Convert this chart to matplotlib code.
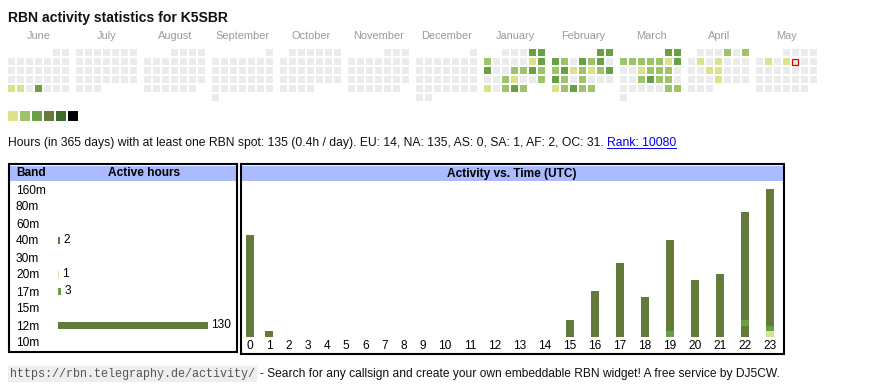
import datetime as dt
import matplotlib
matplotlib.use("Agg")
import matplotlib.pyplot as plt
from matplotlib.patches import Rectangle

# ---------------- data ----------------
title = "RBN activity statistics for K5SBR"
month_names = ["June", "July", "August", "September", "October", "November",
               "December", "January", "February", "March", "April", "May"]
first_year, first_month = 2024, 6
today = "2025-05-09"

# day -> activity level (1..6); all other days are empty
active_dates = [
    "2024-06-24", "2024-06-25", "2024-06-27",
    "2025-01-04", "2025-01-05", "2025-01-06", "2025-01-11", "2025-01-12",
    "2025-01-13", "2025-01-16", "2025-01-17", "2025-01-18", "2025-01-19",
    "2025-01-22", "2025-01-23", "2025-01-26",
    "2025-01-27", "2025-01-29", "2025-01-30", "2025-01-31",
    "2025-02-01", "2025-02-02",
    "2025-02-03", "2025-02-04", "2025-02-06", "2025-02-07", "2025-02-08",
    "2025-02-10", "2025-02-11", "2025-02-12", "2025-02-13", "2025-02-14", "2025-02-15", "2025-02-16",
    "2025-02-17", "2025-02-18", "2025-02-20",
    "2025-02-24", "2025-02-25", "2025-02-26", "2025-02-27", "2025-02-28",
    "2025-03-01", "2025-03-02",
    "2025-03-03", "2025-03-04", "2025-03-05", "2025-03-06", "2025-03-07", "2025-03-08", "2025-03-09",
    "2025-03-12", "2025-03-13", "2025-03-14", "2025-03-15",
    "2025-03-19", "2025-03-20", "2025-03-21", "2025-03-22",
    "2025-03-29", "2025-03-30",
    "2025-04-04", "2025-04-06", "2025-04-08", "2025-04-10",
    "2025-04-16", "2025-04-17", "2025-04-24",
    "2025-05-06", "2025-05-08",
]
active_levels = [
    1, 1, 3,
    3, 3, 2, 1, 3,
    3, 2, 2, 3, 2,
    2, 1, 2,
    1, 2, 3, 2,
    3, 3,
    3, 2, 3, 2, 3,
    2, 3, 1, 2, 1, 2, 3,
    3, 2, 2,
    1, 2, 3, 2, 2,
    3, 3,
    2, 2, 2, 2, 2, 1, 3,
    1, 2, 2, 2,
    2, 3, 2, 2,
    2, 2,
    2, 2, 1, 1,
    1, 1, 1,
    1, 1,
]
level_colors = ["#dbe28b", "#9ec36b", "#68a045", "#667b3b", "#3e6b2a", "#000000"]
empty_color = "#ebebeb"

stats_text = ("Hours (in 365 days) with at least one RBN spot: 135 (0.4h / day). "
              "EU: 14, NA: 135, AS: 0, SA: 1, AF: 2, OC: 31. ")
rank_text = "Rank: 10080"

bands = ["160m", "80m", "60m", "40m", "30m", "20m", "17m", "15m", "12m", "10m"]
band_hours = [0, 0, 0, 2, 0, 1, 3, 0, 130, 0]
band_colors = {"40m": "#647a3a", "20m": "#dbe28b", "17m": "#68a045", "12m": "#647a3a"}

hours = [str(h) for h in range(24)]
hour_40m = [0, 0, 0, 0, 0, 0, 0, 0, 0, 0, 0, 0, 0, 0, 0, 0, 0, 0, 0, 0, 0, 0, 2, 0]
hour_20m = [0, 0, 0, 0, 0, 0, 0, 0, 0, 0, 0, 0, 0, 0, 0, 0, 0, 0, 0, 0, 0, 0, 0, 1]
hour_17m = [0, 0, 0, 0, 0, 0, 0, 0, 0, 0, 0, 0, 0, 0, 0, 0, 0, 0, 0, 1, 0, 0, 1, 1]
hour_12m = [18, 1, 0, 0, 0, 0, 0, 0, 0, 0, 0, 0, 0, 0, 0, 3, 8, 13, 7, 16, 10, 11, 19, 24]
hour_series = [("40m", hour_40m), ("20m", hour_20m), ("17m", hour_17m), ("12m", hour_12m)]

footer_url = "https://rbn.telegraphy.de/activity/"
footer_text = "- Search for any callsign and create your own embeddable RBN widget! A free service by DJ5CW."

# ---------------- layout ----------------
W, H = 870, 390
plt.rcParams["font.family"] = ["Liberation Sans", "DejaVu Sans"]
FS_M = 7.9   # month labels (~11px)
FS = 8.6     # body text (~12px)

fig = plt.figure(figsize=(W / 100, H / 100), dpi=100)
ov = fig.add_axes([0, 0, 1, 1])
ov.set_xlim(0, W)
ov.set_ylim(H, 0)
ov.axis("off")


def px_axes(x0, y0, x1, y1):
    a = fig.add_axes([x0 / W, 1 - y1 / H, (x1 - x0) / W, (y1 - y0) / H])
    a.patch.set_alpha(0)
    for s in a.spines.values():
        s.set_visible(False)
    return a


ov.text(8, 22, title, fontsize=10.1, fontweight="bold", ha="left", va="baseline", color="#111111")

# calendar
levels = {dt.date.fromisoformat(d): l for d, l in zip(active_dates, active_levels)}
today_d = dt.date.fromisoformat(today)
cell, pitch, block = 7, 9, 68
for m in range(12):
    yy = first_year + (first_month - 1 + m) // 12
    mm = (first_month - 1 + m) % 12 + 1
    start = dt.date(yy, mm, 1)
    nxt = dt.date(yy + (mm // 12), mm % 12 + 1, 1)
    ndays = (nxt - start).days
    bx = 8 + block * m
    ov.text(bx + 31, 39, month_names[m], ha="center", va="baseline", fontsize=FS_M, color="#9a9a9a")
    off = start.weekday()
    for d in range(ndays):
        r, c = divmod(off + d, 7)
        day = start + dt.timedelta(days=d)
        lv = levels.get(day, 0)
        col = level_colors[lv - 1] if lv else empty_color
        x, y = bx + pitch * c, 49 + pitch * r
        if day == today_d:
            ov.add_patch(Rectangle((x + 0.5, y + 0.5), cell - 1, cell - 1, facecolor=empty_color,
                                   edgecolor="#e00000", linewidth=0.9))
        else:
            ov.add_patch(Rectangle((x, y), cell, cell, facecolor=col, linewidth=0, antialiased=False))

# legend
for i, c in enumerate(level_colors):
    ov.add_patch(Rectangle((8 + 12 * i, 111), 10, 10, facecolor=c, linewidth=0, antialiased=False))

# stats line
t_stats = ov.text(8, 146, stats_text, fontsize=8.7, ha="left", va="baseline", color="#111111")

# boxes and headers
ov.add_patch(Rectangle((10.3, 166), 226, 14.7, facecolor="#aabbff", linewidth=0))
ov.add_patch(Rectangle((242, 166), 541, 14.7, facecolor="#aabbff", linewidth=0))
ov.add_patch(Rectangle((9.3, 164.3), 228, 187.2, fill=False, edgecolor="black", linewidth=1.5))
ov.add_patch(Rectangle((241, 164.3), 543.2, 189.5, fill=False, edgecolor="black", linewidth=1.5))
ov.text(16, 173.5, "Band", fontsize=FS, fontweight="bold", ha="left", va="center")
ov.text(144, 173.5, "Active hours", fontsize=FS, fontweight="bold", ha="center", va="center")
ov.text(512, 173.5, "Activity vs. Time (UTC)", fontsize=FS, fontweight="bold", ha="center", va="center")

# band bar chart
bax = px_axes(58, 180.5, 234, 350.5)
px_per_unit = 150 / 130
bcols = [band_colors.get(b, "#647a3a") for b in bands]
cont = bax.barh(range(len(bands)), band_hours, height=7 / 17, color=bcols, linewidth=0)
bax.bar_label(cont, labels=[str(v) if v else "" for v in band_hours], padding=2.3, fontsize=FS)
bax.set_xlim(0, 176 / px_per_unit)
bax.set_ylim(len(bands) - 0.5, -0.5)
bax.set_xticks([])
bax.set_yticks(range(len(bands)))
bax.set_yticklabels(bands, fontsize=FS)
bax.tick_params(axis="y", length=0, pad=(58 - 16) * 0.72)
for lab in bax.get_yticklabels():
    lab.set_ha("left")

# activity vs time
tax = px_axes(241, 181, 784, 337)
widths = [19.2 if len(h) == 1 else 25 for h in hours]
xs = []
cur = 240.5
for w in widths:
    xs.append(cur + w / 2)
    cur += w
bottom = [0] * len(hours)
for band, vals in hour_series:
    tax.bar(xs, vals, width=8, bottom=bottom, color=band_colors[band], linewidth=0)
    bottom = [b + v for b, v in zip(bottom, vals)]
tax.set_xlim(241, 784)
tax.set_ylim(0, 156 / (148 / 26))
tax.set_yticks([])
tax.set_xticks(xs)
tax.set_xticklabels(hours, fontsize=FS)
tax.tick_params(axis="x", length=0, pad=2.0)

# footer
t_url = ov.text(10, 374, footer_url, fontsize=8.5, family="Liberation Mono", color="#555555",
                ha="left", va="center",
                bbox=dict(facecolor="#eeeeee", edgecolor="none", boxstyle="square,pad=0.15"))

fig.canvas.draw()
r = fig.canvas.get_renderer()
bb = t_stats.get_window_extent(r)
rx = bb.x1
t_rank = ov.text(rx, 146, rank_text, fontsize=8.7, ha="left", va="baseline", color="#0000ee")
fig.canvas.draw()
rb = t_rank.get_window_extent(r)
ov.plot([rb.x0, rb.x1], [147.5, 147.5], color="#0000ee", linewidth=0.7)
ub = t_url.get_bbox_patch().get_window_extent(r)
ov.text(ub.x1 + 3, 374, footer_text, fontsize=8.65, ha="left", va="center", color="#111111")

fig.savefig("out.png", dpi=100)
